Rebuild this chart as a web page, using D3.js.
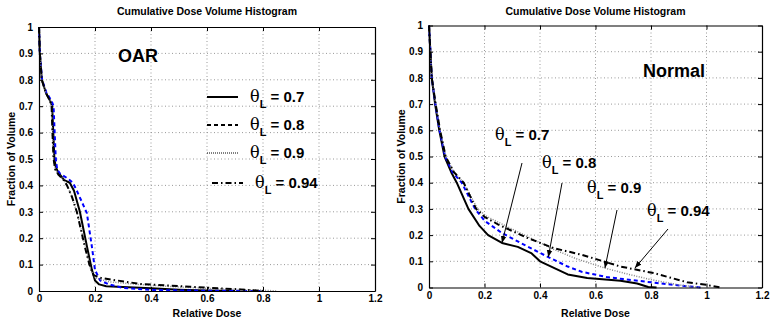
<!DOCTYPE html>
<html>
<head>
<meta charset="utf-8">
<script src="https://cdn.jsdelivr.net/npm/d3@7"></script>
<style>
  body { margin: 0; background: #fff; }
  text { font-family: "Liberation Sans", Arial, sans-serif; font-weight: bold; }
</style>
</head>
<body>
<script>
// tick labels
let xTicks = [0, 0.2, 0.4, 0.6, 0.8, 1, 1.2];
let yTicks = [0, 0.1, 0.2, 0.3, 0.4, 0.5, 0.6, 0.7, 0.8, 0.9, 1];
let thetas = ["0.7", "0.8", "0.9", "0.94"];

// OAR panel, [relative dose, fraction of volume]
let oar07 = [[0,1],[0.003,0.9],[0.01,0.8],[0.025,0.75],[0.04,0.72],[0.047,0.7],[0.051,0.6],[0.055,0.5],[0.06,0.47],[0.068,0.45],[0.09,0.42],[0.11,0.41],[0.125,0.38],[0.146,0.3],[0.171,0.17],[0.189,0.08],[0.2,0.04],[0.215,0.025],[0.24,0.018],[0.3,0.015],[0.4,0.01],[0.5,0.005],[0.6,0.002],[0.7,0]];
let oar08 = [[0,1],[0.003,0.9],[0.011,0.8],[0.027,0.75],[0.045,0.72],[0.052,0.7],[0.056,0.6],[0.06,0.5],[0.065,0.46],[0.075,0.445],[0.104,0.425],[0.121,0.41],[0.135,0.38],[0.171,0.295],[0.189,0.167],[0.2,0.08],[0.218,0.04],[0.25,0.025],[0.3,0.012],[0.4,0.004],[0.5,0.002],[0.6,0.001],[0.8,0]];
let oar09 = [[0,1],[0.003,0.9],[0.01,0.8],[0.025,0.75],[0.04,0.72],[0.045,0.7],[0.048,0.6],[0.052,0.5],[0.058,0.46],[0.07,0.44],[0.09,0.42],[0.105,0.39],[0.12,0.35],[0.14,0.28],[0.165,0.17],[0.185,0.08],[0.2,0.05],[0.25,0.035],[0.35,0.025],[0.5,0.015],[0.65,0.008],[0.8,0.003],[0.85,0]];
let oar094 = [[0,1],[0.003,0.9],[0.01,0.8],[0.025,0.75],[0.04,0.72],[0.045,0.7],[0.048,0.6],[0.052,0.5],[0.058,0.46],[0.07,0.44],[0.088,0.42],[0.1,0.4],[0.118,0.356],[0.135,0.3],[0.164,0.167],[0.18,0.1],[0.195,0.06],[0.22,0.05],[0.265,0.042],[0.36,0.027],[0.54,0.016],[0.72,0.006],[0.8,0]];

// Normal tissue panel
let nor07 = [[0,1],[0.01,0.8],[0.022,0.7],[0.037,0.6],[0.056,0.5],[0.08,0.44],[0.1,0.4],[0.142,0.3],[0.182,0.235],[0.213,0.2],[0.263,0.17],[0.32,0.155],[0.37,0.13],[0.4,0.1],[0.45,0.075],[0.5,0.05],[0.57,0.036],[0.69,0.026],[0.75,0.015],[0.79,0.002],[0.82,0]];
let nor08 = [[0,1],[0.01,0.8],[0.023,0.7],[0.038,0.6],[0.058,0.5],[0.085,0.44],[0.118,0.4],[0.166,0.3],[0.2,0.255],[0.26,0.21],[0.33,0.17],[0.43,0.116],[0.5,0.08],[0.55,0.06],[0.64,0.04],[0.7,0.032],[0.8,0.02],[0.88,0.01],[0.98,0]];
let nor09 = [[0,1],[0.01,0.8],[0.024,0.7],[0.04,0.6],[0.06,0.5],[0.09,0.44],[0.125,0.4],[0.175,0.3],[0.21,0.27],[0.328,0.208],[0.45,0.145],[0.53,0.11],[0.634,0.074],[0.72,0.05],[0.8,0.03],[0.9,0.01],[0.98,0]];
let nor094 = [[0,1],[0.01,0.8],[0.024,0.7],[0.04,0.6],[0.06,0.5],[0.09,0.44],[0.125,0.4],[0.17,0.3],[0.2,0.27],[0.25,0.24],[0.353,0.19],[0.45,0.15],[0.55,0.125],[0.69,0.08],[0.81,0.055],[0.93,0.02],[1.0,0.01],[1.05,0]];

let styles = [
  {color: "#000", width: 2, dash: null},
  {color: "#0000ff", width: 2, dash: "4,3"},
  {color: "#888", width: 1.5, dash: "1,1.5"},
  {color: "#000", width: 2, dash: "6,3,1.5,3"}
];

let svg = d3.select("body").append("svg").attr("width", 771).attr("height", 320);

svg.append("defs").append("marker")
    .attr("id", "arrow")
    .attr("viewBox", "0 0 10 10")
    .attr("refX", 10).attr("refY", 5)
    .attr("markerWidth", 7).attr("markerHeight", 7)
    .attr("markerUnits", "userSpaceOnUse")
    .attr("orient", "auto")
  .append("path").attr("d", "M0,1 L10,5 L0,9 Z").attr("fill", "#000");

function panel(left, top, w, h, series) {
  let x = d3.scaleLinear().domain([0, 1.2]).range([left, left + w]);
  let y = d3.scaleLinear().domain([0, 1]).range([top + h, top]);
  let g = svg.append("g");

  // grid
  g.selectAll("line.gx").data(xTicks.slice(1, -1)).enter().append("line")
      .attr("x1", d => x(d)).attr("x2", d => x(d))
      .attr("y1", top).attr("y2", top + h)
      .attr("stroke", "#999").attr("stroke-width", 1).attr("stroke-dasharray", "1,2.5");
  g.selectAll("line.gy").data(yTicks.slice(1, -1)).enter().append("line")
      .attr("y1", d => y(d)).attr("y2", d => y(d))
      .attr("x1", left).attr("x2", left + w)
      .attr("stroke", "#999").attr("stroke-width", 1).attr("stroke-dasharray", "1,2.5");

  // curves
  let line = d3.line().x(d => x(d[0])).y(d => y(d[1]));
  series.forEach((s, i) => {
    g.append("path").datum(s)
      .attr("d", line)
      .attr("fill", "none")
      .attr("stroke", styles[i].color)
      .attr("stroke-width", styles[i].width)
      .attr("stroke-dasharray", styles[i].dash)
      .attr("stroke-linejoin", "round");
  });

  // axes with inward ticks, on all four sides
  let fmt = d => d3.format("")(+d.toFixed(1));
  g.append("g").attr("transform", `translate(0,${top + h})`)
      .call(d3.axisBottom(x).tickValues(xTicks).tickSizeInner(-4).tickSizeOuter(0).tickPadding(4).tickFormat(fmt));
  g.append("g").attr("transform", `translate(${left},0)`)
      .call(d3.axisLeft(y).tickValues(yTicks).tickSizeInner(-4).tickSizeOuter(0).tickPadding(6).tickFormat(fmt));
  g.append("g").attr("transform", `translate(0,${top})`)
      .call(d3.axisTop(x).tickValues(xTicks).tickSizeInner(-4).tickSizeOuter(0).tickFormat(""));
  g.append("g").attr("transform", `translate(${left + w},0)`)
      .call(d3.axisRight(y).tickValues(yTicks).tickSizeInner(-4).tickSizeOuter(0).tickFormat(""));
  g.selectAll(".domain").attr("stroke", "#000").attr("stroke-width", 1.2);
  g.selectAll(".tick text").attr("font-size", 10).attr("font-weight", "bold")
      .attr("font-family", "Liberation Sans, Arial, sans-serif").attr("fill", "#000");

  g.append("text").attr("x", left + w / 2).attr("y", 15).attr("text-anchor", "middle")
      .attr("font-size", 10.5).text("Cumulative Dose Volume Histogram");
  g.append("text").attr("x", left + w / 2).attr("y", 317).attr("text-anchor", "middle")
      .attr("font-size", 10.5).text("Relative Dose");
  g.append("text").attr("transform", `translate(${left - 24},${top + h / 2}) rotate(-90)`)
      .attr("text-anchor", "middle").attr("font-size", 10.5).text("Fraction of Volume");
  return {x: x, y: y, g: g};
}

function thetaLabel(g, tx, ty, val) {
  let t = g.append("text").attr("x", tx).attr("y", ty).attr("font-size", 15);
  t.append("tspan").attr("font-family", "DejaVu Serif, serif").attr("font-weight", "normal")
      .attr("font-size", 16).text("θ");
  t.append("tspan").attr("font-size", 11).attr("dy", 6).text("L");
  t.append("tspan").attr("dy", -6).text(" = " + val);
}

// left: OAR
let p1 = panel(39, 27, 336, 264, [oar07, oar08, oar09, oar094]);
p1.g.append("text").attr("x", 118).attr("y", 62).attr("font-size", 18).text("OAR");
let legendY = [97, 125, 153, 183];
thetas.forEach((v, i) => {
  let lx = i === 3 ? 212 : 207;
  p1.g.append("line").attr("x1", lx).attr("x2", lx + 31)
      .attr("y1", legendY[i]).attr("y2", legendY[i])
      .attr("stroke", "#000").attr("stroke-width", i === 2 ? 1 : 2)
      .attr("stroke-dasharray", [null, "4,3", "1,1", "6,3,1.5,3"][i]);
  thetaLabel(p1.g, lx + 43, legendY[i] + 5, v);
});

// right: Normal
let p2 = panel(429, 25.5, 333, 262, [nor07, nor08, nor09, nor094]);
p2.g.append("text").attr("x", 643).attr("y", 77).attr("font-size", 18).text("Normal");

// annotation label position, arrow start and the curve point it points to
let annText = [[495, 140], [542, 168], [587, 193], [647, 216]];
let annFrom = [[522, 163], [562, 183], [617, 210], [668, 229]];
let annTo = [[0.263, 0.17], [0.43, 0.116], [0.634, 0.074], [0.742, 0.074]];
thetas.forEach((v, i) => {
  thetaLabel(p2.g, annText[i][0], annText[i][1], v);
  p2.g.append("line")
      .attr("x1", annFrom[i][0]).attr("y1", annFrom[i][1])
      .attr("x2", p2.x(annTo[i][0])).attr("y2", p2.y(annTo[i][1]))
      .attr("stroke", "#000").attr("stroke-width", 1)
      .attr("marker-end", "url(#arrow)");
});
</script>
</body>
</html>
